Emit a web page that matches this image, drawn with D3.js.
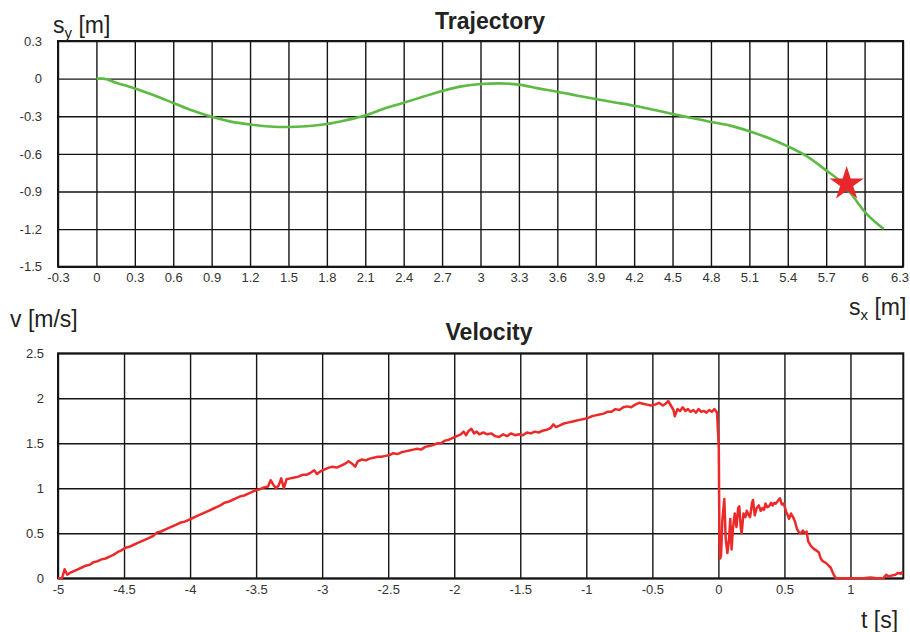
<!DOCTYPE html>
<html>
<head>
<meta charset="utf-8">
<script src="https://cdn.jsdelivr.net/npm/d3@7"></script>
<style>
  html, body { margin: 0; padding: 0; background: #fff; }
  svg { display: block; }
  text { font-family: "Liberation Sans", Arial, Helvetica, sans-serif; }
</style>
</head>
<body>
<svg id="chart" width="910" height="632"></svg>
<script>
// Trajectory of the tracked point (horizontal vs vertical displacement)
const sx = [0, 0.05, 0.16, 0.3, 0.45, 0.6, 0.75, 0.9, 1.05, 1.2, 1.35, 1.5, 1.64, 1.8, 1.95, 2.1, 2.25, 2.4, 2.55, 2.7, 2.85, 3.0, 3.15, 3.3, 3.45, 3.6, 3.75, 3.9, 4.05, 4.2, 4.35, 4.5, 4.65, 4.8, 4.95, 5.1, 5.25, 5.4, 5.55, 5.7, 5.8, 5.9, 6.0, 6.15];
const sy = [0, 0, -0.035, -0.078, -0.133, -0.194, -0.255, -0.305, -0.343, -0.366, -0.382, -0.386, -0.38, -0.362, -0.332, -0.295, -0.238, -0.193, -0.145, -0.099, -0.062, -0.043, -0.038, -0.048, -0.078, -0.104, -0.134, -0.163, -0.19, -0.216, -0.248, -0.282, -0.314, -0.346, -0.375, -0.42, -0.474, -0.54, -0.62, -0.732, -0.81, -0.926, -1.06, -1.2];
// Marked position on the trajectory
const markSx = [5.86];
const markSy = [-0.84];

const sxTicks = [-0.3, 0, 0.3, 0.6, 0.9, 1.2, 1.5, 1.8, 2.1, 2.4, 2.7, 3, 3.3, 3.6, 3.9, 4.2, 4.5, 4.8, 5.1, 5.4, 5.7, 6, 6.3];
const syTicks = [0.3, 0, -0.3, -0.6, -0.9, -1.2, -1.5];

// Velocity over time
const t = [-5.0, -4.97, -4.95, -4.93, -4.91, -4.88, -4.85, -4.82, -4.79, -4.76, -4.73, -4.7, -4.67, -4.64, -4.61, -4.58, -4.55, -4.52, -4.49, -4.46, -4.43, -4.4, -4.37, -4.34, -4.31, -4.28, -4.25, -4.22, -4.19, -4.16, -4.13, -4.1, -4.07, -4.04, -4.01, -3.98, -3.95, -3.92, -3.89, -3.86, -3.83, -3.8, -3.77, -3.74, -3.71, -3.68, -3.65, -3.62, -3.59, -3.56, -3.53, -3.5, -3.47, -3.44, -3.41, -3.39, -3.37, -3.35, -3.33, -3.31, -3.29, -3.27, -3.24, -3.21, -3.18, -3.15, -3.12, -3.09, -3.06, -3.04, -3.01, -2.98, -2.95, -2.92, -2.89, -2.86, -2.83, -2.8, -2.77, -2.75, -2.73, -2.7, -2.67, -2.64, -2.61, -2.58, -2.55, -2.52, -2.49, -2.46, -2.43, -2.4, -2.37, -2.34, -2.31, -2.28, -2.25, -2.22, -2.19, -2.16, -2.13, -2.1, -2.07, -2.04, -2.01, -1.98, -1.95, -1.93, -1.91, -1.89, -1.87, -1.85, -1.83, -1.81, -1.78, -1.75, -1.72, -1.69, -1.66, -1.63, -1.6, -1.57, -1.54, -1.51, -1.48, -1.45, -1.42, -1.39, -1.36, -1.33, -1.3, -1.27, -1.25, -1.23, -1.2, -1.17, -1.14, -1.11, -1.08, -1.05, -1.02, -0.99, -0.96, -0.93, -0.9, -0.87, -0.84, -0.81, -0.78, -0.75, -0.72, -0.69, -0.66, -0.63, -0.6, -0.57, -0.54, -0.51, -0.48, -0.45, -0.42, -0.4, -0.38, -0.36, -0.34, -0.33, -0.31, -0.29, -0.27, -0.25, -0.23, -0.21, -0.19, -0.17, -0.15, -0.13, -0.11, -0.09, -0.07, -0.05, -0.03, -0.01, 0.003, 0.008, 0.013, 0.02, 0.03, 0.045, 0.055, 0.068, 0.08, 0.09, 0.1, 0.11, 0.124, 0.137, 0.15, 0.158, 0.17, 0.176, 0.19, 0.205, 0.215, 0.23, 0.24, 0.255, 0.262, 0.275, 0.29, 0.306, 0.32, 0.333, 0.345, 0.357, 0.37, 0.383, 0.4, 0.41, 0.425, 0.435, 0.45, 0.466, 0.48, 0.495, 0.513, 0.525, 0.535, 0.55, 0.565, 0.58, 0.595, 0.61, 0.625, 0.64, 0.655, 0.668, 0.68, 0.7, 0.72, 0.74, 0.76, 0.775, 0.79, 0.815, 0.835, 0.85, 0.87, 0.89, 1.0, 1.1, 1.15, 1.2, 1.25, 1.27, 1.29, 1.31, 1.34, 1.36, 1.38, 1.395];
const v = [0.0, 0.0, 0.1, 0.04, 0.06, 0.08, 0.1, 0.12, 0.14, 0.15, 0.18, 0.19, 0.21, 0.22, 0.24, 0.26, 0.29, 0.31, 0.34, 0.35, 0.37, 0.39, 0.41, 0.43, 0.45, 0.47, 0.51, 0.52, 0.54, 0.56, 0.58, 0.6, 0.62, 0.63, 0.65, 0.67, 0.69, 0.71, 0.73, 0.75, 0.77, 0.79, 0.81, 0.84, 0.85, 0.87, 0.89, 0.91, 0.92, 0.94, 0.96, 0.98, 0.99, 1.01, 1.02, 1.09, 1.04, 1.0, 1.03, 1.11, 1.0, 1.1, 1.11, 1.12, 1.13, 1.15, 1.15, 1.17, 1.2, 1.16, 1.19, 1.21, 1.23, 1.24, 1.23, 1.25, 1.27, 1.3, 1.27, 1.24, 1.3, 1.32, 1.31, 1.33, 1.34, 1.35, 1.35, 1.36, 1.37, 1.39, 1.38, 1.4, 1.41, 1.42, 1.43, 1.44, 1.43, 1.46, 1.47, 1.48, 1.5, 1.5, 1.53, 1.54, 1.56, 1.58, 1.6, 1.63, 1.59, 1.64, 1.66, 1.61, 1.63, 1.6, 1.62, 1.6, 1.61, 1.58, 1.57, 1.6, 1.58, 1.61, 1.59, 1.6, 1.59, 1.62, 1.61, 1.63, 1.62, 1.64, 1.65, 1.67, 1.71, 1.68, 1.7, 1.72, 1.73, 1.74, 1.75, 1.76, 1.77, 1.78, 1.8, 1.81, 1.82, 1.83, 1.85, 1.85, 1.88, 1.87, 1.9, 1.91, 1.9, 1.93, 1.95, 1.94, 1.93, 1.92, 1.93, 1.95, 1.92, 1.94, 1.97, 1.92, 1.87, 1.8, 1.88, 1.86, 1.9, 1.86, 1.88, 1.85, 1.87, 1.84, 1.88, 1.85, 1.86, 1.84, 1.87, 1.85, 1.88, 1.84, 1.45, 0.4, 0.22, 0.25, 0.65, 0.88, 0.45, 0.28, 0.42, 0.66, 0.32, 0.55, 0.72, 0.57, 0.78, 0.8, 0.55, 0.5, 0.72, 0.68, 0.75, 0.7, 0.68, 0.84, 0.87, 0.7, 0.78, 0.81, 0.75, 0.78, 0.76, 0.83, 0.79, 0.8, 0.84, 0.81, 0.84, 0.83, 0.86, 0.89, 0.82, 0.83, 0.74, 0.7, 0.66, 0.72, 0.68, 0.63, 0.55, 0.51, 0.5, 0.53, 0.5, 0.52, 0.41, 0.36, 0.33, 0.31, 0.29, 0.22, 0.19, 0.17, 0.14, 0.12, 0.05, 0.0, 0.0, 0.0, 0.01, 0.0, 0.0, 0.04, 0.02, 0.03, 0.04, 0.06, 0.05, 0.07];

const tTicks = [-5, -4.5, -4, -3.5, -3, -2.5, -2, -1.5, -1, -0.5, 0, 0.5, 1];
const vTicks = [0, 0.5, 1, 1.5, 2, 2.5];

const svg = d3.select("#chart");
const W = 910;

const GRID = "#151515";
const LABEL = "#333";

function panel(cfg) {
  const g = svg.append("g");
  const x = d3.scaleLinear().domain(cfg.xDomain).range([cfg.left, cfg.right]);
  const y = d3.scaleLinear().domain(cfg.yDomain).range([cfg.bottom, cfg.top]);

  // vertical grid + x labels
  const xAxis = g.append("g")
    .attr("transform", `translate(0,${cfg.bottom})`)
    .call(d3.axisBottom(x).tickValues(cfg.xTicks).tickSize(-(cfg.bottom - cfg.top))
      .tickPadding(cfg.xPad).tickFormat(d => String(d)));
  // horizontal grid + y labels
  const yAxis = g.append("g")
    .attr("transform", `translate(${cfg.left},0)`)
    .call(d3.axisLeft(y).tickValues(cfg.yTicks).tickSize(-(cfg.right - cfg.left))
      .tickPadding(cfg.yPad).tickFormat(d => String(d)));

  [xAxis, yAxis].forEach(a => {
    a.select(".domain").remove();
    a.selectAll(".tick line").attr("stroke", GRID).attr("stroke-width", 1.4);
    a.selectAll(".tick text")
      .attr("fill", LABEL)
      .style("font-size", "13px")
      .style("font-family", '"Liberation Sans", Arial, sans-serif');
  });

  // keep the rightmost x label inside the drawing
  xAxis.selectAll(".tick text").each(function () {
    const box = this.getBBox();
    const tick = this.parentNode.transform.baseVal.consolidate().matrix.e;
    const over = tick + box.x + box.width - (W - 1);
    if (over > 0) d3.select(this).attr("dx", -over);
  });

  // frame
  g.append("rect")
    .attr("x", cfg.left).attr("y", cfg.top)
    .attr("width", cfg.right - cfg.left).attr("height", cfg.bottom - cfg.top)
    .attr("fill", "none").attr("stroke", GRID).attr("stroke-width", 2);

  // title
  g.append("text")
    .attr("x", cfg.titleX).attr("y", cfg.titleY)
    .attr("text-anchor", "middle")
    .attr("fill", "#222")
    .style("font-size", "23px").style("font-weight", "bold")
    .text(cfg.title);

  return { g, x, y };
}

// ---- Trajectory panel ----
const trajPanel = panel({
  left: 58, right: 903, top: 41, bottom: 266.7,
  xDomain: [-0.3, 6.3], yDomain: [-1.5, 0.3],
  xTicks: sxTicks, yTicks: syTicks, xPad: 6.5, yPad: 16,
  title: "Trajectory", titleX: 490, titleY: 29
});

const trajLine = d3.line()
  .x((d, i) => trajPanel.x(sx[i]))
  .y((d, i) => trajPanel.y(sy[i]))
  .curve(d3.curveMonotoneX);

trajPanel.g.append("path")
  .attr("d", trajLine(sx))
  .attr("fill", "none")
  .attr("stroke", "#5dba45")
  .attr("stroke-width", 2.6)
  .attr("stroke-linejoin", "round");

trajPanel.g.selectAll(".mark")
  .data(markSx)
  .join("path")
  .attr("class", "mark")
  .attr("transform", (d, i) => `translate(${trajPanel.x(d)},${trajPanel.y(markSy[i])})`)
  .attr("d", d3.symbol(d3.symbolStar, 364)())
  .attr("fill", "#e8272b");

// axis labels for trajectory
const syLabel = svg.append("text").attr("x", 53).attr("y", 33)
  .attr("fill", "#222").style("font-size", "23px");
syLabel.append("tspan").text("s");
syLabel.append("tspan").attr("dy", 5).style("font-size", "15px").text("y");
syLabel.append("tspan").attr("dy", -5).text(" [m]");

const sxLabel = svg.append("text").attr("x", 849).attr("y", 315)
  .attr("fill", "#222").style("font-size", "23px");
sxLabel.append("tspan").text("s");
sxLabel.append("tspan").attr("dy", 5).style("font-size", "15px").text("x");
sxLabel.append("tspan").attr("dy", -5).text(" [m]");

// ---- Velocity panel ----
const velPanel = panel({
  left: 58, right: 903.3, top: 353.3, bottom: 578.3,
  xDomain: [-5, 1.4], yDomain: [0, 2.5],
  xTicks: tTicks, yTicks: vTicks, xPad: 6.5, yPad: 14,
  title: "Velocity", titleX: 489, titleY: 340
});

const velLine = d3.line()
  .x((d, i) => velPanel.x(t[i]))
  .y((d, i) => velPanel.y(v[i]));

velPanel.g.append("path")
  .attr("d", velLine(t))
  .attr("fill", "none")
  .attr("stroke", "#ec2a2a")
  .attr("stroke-width", 2.5)
  .attr("stroke-linejoin", "round");

svg.append("text").attr("x", 10).attr("y", 327)
  .attr("fill", "#222").style("font-size", "23px").text("v [m/s]");
svg.append("text").attr("x", 861).attr("y", 628)
  .attr("fill", "#222").style("font-size", "23px").text("t [s]");
</script>
</body>
</html>
